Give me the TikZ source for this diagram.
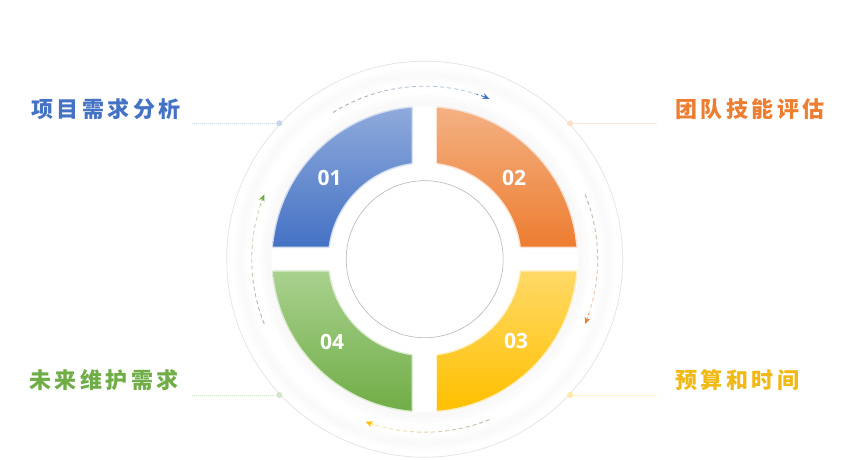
\documentclass[tikz,border=0pt]{standalone}
\usepackage{fontspec}
\newfontfamily\cjk{Noto Sans CJK SC}[LetterSpace=16]
\newfontfamily\numfont{Open Sans}
\usetikzlibrary{arrows.meta}
\definecolor{cBlue}{HTML}{4472C4}
\definecolor{cBlueL}{HTML}{8FAADC}
\definecolor{cOr}{HTML}{ED7D31}
\definecolor{cOrL}{HTML}{F4B183}
\definecolor{cYe}{HTML}{FFC000}
\definecolor{cYeL}{HTML}{FFD966}
\definecolor{cYeT}{HTML}{F0B914}
\definecolor{cGr}{HTML}{70AD47}
\definecolor{cGrL}{HTML}{A9D18E}
\tikzset{
  num/.style={text=white, font=\numfont\bfseries\fontsize{21}{21}\selectfont, inner sep=0pt},
  lbl/.style={font=\cjk\bfseries\fontsize{22}{22}\selectfont, inner sep=0pt},
  dotnode/.style={circle, inner sep=0pt, minimum size=6pt, fill=#1},
  flow/.style={line width=0.9pt, dash pattern=on 4pt off 3pt},
  leaddot/.style={draw=#1, line width=0.9pt, dash pattern=on 0.8pt off 1.2pt},
  leadsolid/.style={draw=#1, line width=0.7pt},
}
% dashed flow arc fading from light grey to colour
\newcommand\flowarc[3]{%
  \pgfmathsetmacro\fs{#2}\pgfmathsetmacro\fe{#3}%
  \pgfmathsetmacro\fL{173*3.14159/180*abs(\fe-\fs)/12}%
  \foreach \i in {0,...,10}{%
    \pgfmathsetmacro\aa{\fs+(\fe-\fs)*\i/12}%
    \pgfmathsetmacro\bb{\fs+(\fe-\fs)*(\i+1)/12}%
    \pgfmathsetmacro\pp{25+70*\i/10}%
    \pgfmathsetmacro\ph{\i*\fL}%
    \draw[flow, draw=#1!\pp!black!35, dash phase=\ph pt] (\aa:173) arc[start angle=\aa, end angle=\bb, radius=173];
  }%
  \pgfmathsetmacro\aa{\fs+(\fe-\fs)*11/12}%
  \pgfmathsetmacro\ph{11*\fL}%
  \draw[flow, draw=#1, dash phase=\ph pt, -{Stealth[length=7pt,width=6pt]}] (\aa:173) arc[start angle=\aa, end angle=\fe, radius=173];
}
\begin{document}
\begin{tikzpicture}[x=1pt,y=1pt]
\useasboundingbox (0,0) rectangle (851,459);
\fill[white] (0,0) rectangle (851,459);
\begin{scope}[shift={(424.7,199.8)}]
  % outer faint circle
  \draw[black!11, line width=0.7pt] (0,0) circle (198);
  % soft shadow bands
  \foreach \r/\o in {178/0.008,181/0.014,184/0.02,187/0.016,190/0.008}
    \draw[black, opacity=\o, line width=3pt] (0,0) circle (\r);
  \foreach \r/\o in {154/0.018,157/0.022,160/0.016,163/0.01}
    \draw[black, opacity=\o, line width=3pt] (0,0) circle (\r);
  \fill[white] (0,0) circle (152.5);
  % segment glows
  \draw[cBlueL, opacity=0.35, line width=3pt, line join=round] (94.91:152) arc[start angle=94.91, end angle=175.28, radius=152] -- (172.60:97) arc[start angle=172.60, end angle=97.70, radius=97] -- cycle;
  \draw[cOrL, opacity=0.35, line width=3pt, line join=round] (85.09:152) arc[start angle=85.09, end angle=4.72, radius=152] -- (7.40:97) arc[start angle=7.40, end angle=82.30, radius=97] -- cycle;
  \draw[cYeL, opacity=0.35, line width=3pt, line join=round] (274.91:152) arc[start angle=274.91, end angle=355.28, radius=152] -- (352.60:97) arc[start angle=352.60, end angle=277.70, radius=97] -- cycle;
  \draw[cGrL, opacity=0.35, line width=3pt, line join=round] (184.72:152) arc[start angle=184.72, end angle=265.09, radius=152] -- (262.30:97) arc[start angle=262.30, end angle=187.40, radius=97] -- cycle;
  % segments
  \shade[top color=cBlueL, bottom color=cBlue] (94.91:152) arc[start angle=94.91, end angle=175.28, radius=152] -- (172.60:97) arc[start angle=172.60, end angle=97.70, radius=97] -- cycle;
  \shade[top color=cOrL, bottom color=cOr] (85.09:152) arc[start angle=85.09, end angle=4.72, radius=152] -- (7.40:97) arc[start angle=7.40, end angle=82.30, radius=97] -- cycle;
  \shade[top color=cYeL, bottom color=cYe] (274.91:152) arc[start angle=274.91, end angle=355.28, radius=152] -- (352.60:97) arc[start angle=352.60, end angle=277.70, radius=97] -- cycle;
  \shade[top color=cGrL, bottom color=cGr] (184.72:152) arc[start angle=184.72, end angle=265.09, radius=152] -- (262.30:97) arc[start angle=262.30, end angle=187.40, radius=97] -- cycle;
  % inner circle
  \draw[black!28, line width=0.6pt] (0,0) circle (78.5);
  % flow arcs
  \flowarc{cBlue}{122}{68}
  \flowarc{cOr}{22}{-22}
  \flowarc{cYe}{-68}{-110}
  \flowarc{cGr}{202}{158}
\end{scope}
% numbers
\node[num] (n1) at (329.5,281.5) {01};
\node[num] (n2) at (514.2,281.5) {02};
\node[num] (n3) at (516.2,118) {03};
\node[num] (n4) at (332.2,117.3) {04};
% dots
\node[dotnode=cBlue!30] (d1) at (279.3,335.7) {};
\node[dotnode=cOr!25] (d2) at (570.1,335.7) {};
\node[dotnode=cYe!35] (d3) at (570.1,64) {};
\node[dotnode=cGr!30] (d4) at (279.3,64) {};
% leader line ends
\coordinate (e1) at (192,335.7);
\coordinate (e2) at (657,335.7);
\coordinate (e3) at (657,64);
\coordinate (e4) at (192,64);
\draw[leaddot=cBlue!30] (e1) -- (d1);
\draw[leadsolid=cOr!15] (d2) -- (e2);
\draw[leadsolid=cYe!20] (d3) -- (e3);
\draw[leaddot=cGr!30] (e4) -- (d4);
% labels
\node[lbl, text=cBlue, anchor=east] (t1) at (181,350) {项目需求分析};
\node[lbl, text=cOr, anchor=west] (t2) at (675,349.5) {团队技能评估};
\node[lbl, text=cYeT, anchor=west] (t3) at (675,79) {预算和时间};
\node[lbl, text=cGr, anchor=east] (t4) at (179,79) {未来维护需求};
\end{tikzpicture}
\end{document}
